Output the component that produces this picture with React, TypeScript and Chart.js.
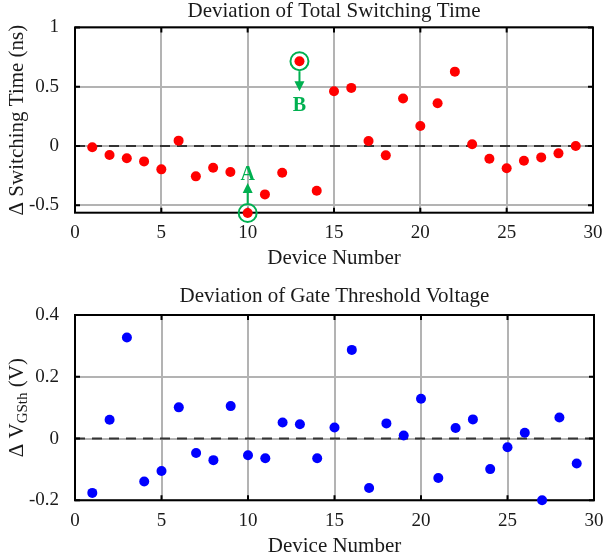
import React, { useEffect, useRef } from 'react';
import { Chart, registerables } from 'chart.js';

Chart.register(...registerables);

// ---------- data ----------
const devices = [1, 2, 3, 4, 5, 6, 7, 8, 9, 10, 11, 12, 13, 14, 15, 16, 17, 18, 19, 20, 21, 22, 23, 24, 25, 26, 27, 28, 29];
const switchingTimeDev = [-0.01, -0.076, -0.104, -0.13, -0.197, 0.045, -0.256, -0.183, -0.219, -0.565, -0.408, -0.225, 0.715, -0.377, 0.461, 0.49, 0.042, -0.079, 0.4, 0.169, 0.36, 0.627, 0.014, -0.107, -0.188, -0.124, -0.096, -0.062, 0.0];
const gateThresholdDev = [-0.176, 0.061, 0.327, -0.139, -0.105, 0.101, -0.047, -0.07, 0.105, -0.054, -0.064, 0.052, 0.046, -0.064, 0.036, 0.287, -0.16, 0.049, 0.01, 0.129, -0.128, 0.034, 0.062, -0.099, -0.028, 0.019, -0.2, 0.068, -0.081];
const xTicks = [0, 5, 10, 15, 20, 25, 30];
const topYTicks = [-0.5, 0, 0.5, 1];
const topYTickLabels = ['-0.5', '0', '0.5', '1'];
const bottomYTicks = [-0.2, 0, 0.2, 0.4];
const bottomYTickLabels = ['-0.2', '0', '0.2', '0.4'];
const markDevices = [10, 13];
const markValues = [-0.565, 0.715];
const markLabels = ['A', 'B'];
const markDirections = ['up', 'down'];

// ---------- styles ----------
const FONT = "'Liberation Serif', 'DejaVu Serif', serif";
const GREEN = 'rgb(0,176,80)';
const GRID = '#b3b3b3';
const TEXT = '#1a1a1a';
const W = 604;
const H = 280;

type Part = { text: string; sub?: boolean };

interface Panel {
  title: string;
  yTitle: Part[];
  values: number[];
  color: string;
  yMin: number;
  yMax: number;
  yTicks: number[];
  yTickLabels: string[];
  withMarks: boolean;
  areaTop: number;
  areaBottom: number;
  titleBaseline: number;
  xTitleBaseline: number;
}

const panels: Panel[] = [
  {
    title: 'Deviation of Total Switching Time',
    yTitle: [{ text: '\u0394 Switching Time (ns)' }],
    values: switchingTimeDev,
    color: '#ff0000',
    yMin: -0.5625,
    yMax: 1,
    yTicks: topYTicks,
    yTickLabels: topYTickLabels,
    withMarks: true,
    areaTop: 27.4,
    areaBottom: 212.7,
    titleBaseline: 17,
    xTitleBaseline: 264,
  },
  {
    title: 'Deviation of Gate Threshold Voltage',
    yTitle: [{ text: '\u0394 V' }, { text: 'GSth', sub: true }, { text: ' (V)' }],
    values: gateThresholdDev,
    color: '#0000ff',
    yMin: -0.2,
    yMax: 0.4,
    yTicks: bottomYTicks,
    yTickLabels: bottomYTickLabels,
    withMarks: false,
    areaTop: 35,
    areaBottom: 220.3,
    titleBaseline: 22.3,
    xTitleBaseline: 271.7,
  },
];

function makeChart(canvas: HTMLCanvasElement, p: Panel) {
  const framePlugin = {
    id: 'frame',
    beforeDatasetsDraw(chart: any) {
      const { ctx, chartArea: a, scales } = chart;
      ctx.save();
      // zero dashed line
      const y0 = scales.y.getPixelForValue(0);
      ctx.strokeStyle = '#333333';
      ctx.lineWidth = 2;
      ctx.setLineDash([10, 7]);
      ctx.beginPath();
      ctx.moveTo(a.left, y0);
      ctx.lineTo(a.right, y0);
      ctx.stroke();
      ctx.setLineDash([]);
      // inner tick marks
      ctx.strokeStyle = '#000';
      ctx.lineWidth = 2;
      const tl = 5;
      ctx.beginPath();
      xTicks.forEach((v) => {
        const x = scales.x.getPixelForValue(v);
        ctx.moveTo(x, a.bottom);
        ctx.lineTo(x, a.bottom - tl);
        ctx.moveTo(x, a.top);
        ctx.lineTo(x, a.top + tl);
      });
      p.yTicks.forEach((v) => {
        const y = scales.y.getPixelForValue(v);
        ctx.moveTo(a.left, y);
        ctx.lineTo(a.left + tl, y);
        ctx.moveTo(a.right, y);
        ctx.lineTo(a.right - tl, y);
      });
      ctx.stroke();
      // box
      ctx.strokeRect(a.left, a.top, a.right - a.left, a.bottom - a.top);
      ctx.restore();
    },
  };

  const textPlugin = {
    id: 'texts',
    afterDraw(chart: any) {
      const { ctx, chartArea: a, scales } = chart;
      ctx.save();
      ctx.fillStyle = TEXT;
      ctx.textAlign = 'center';
      ctx.textBaseline = 'alphabetic';
      ctx.font = `21px ${FONT}`;
      const cx = (a.left + a.right) / 2;
      ctx.fillText(p.title, cx, p.titleBaseline);
      ctx.fillText('Device Number', cx, p.xTitleBaseline);
      // y title, rotated, with optional subscript
      const mainFont = `21px ${FONT}`;
      const subFont = `15px ${FONT}`;
      let total = 0;
      const widths = p.yTitle.map((part) => {
        ctx.font = part.sub ? subFont : mainFont;
        const w = ctx.measureText(part.text).width;
        total += w;
        return w;
      });
      ctx.translate(23, (a.top + a.bottom) / 2);
      ctx.rotate(-Math.PI / 2);
      ctx.textAlign = 'left';
      let x = -total / 2;
      p.yTitle.forEach((part, i) => {
        ctx.font = part.sub ? subFont : mainFont;
        ctx.fillText(part.text, x, part.sub ? 4 : 0);
        x += widths[i];
      });
      ctx.restore();

      if (p.withMarks) {
        ctx.save();
        ctx.fillStyle = GREEN;
        ctx.strokeStyle = GREEN;
        ctx.lineWidth = 2;
        ctx.textAlign = 'center';
        ctx.font = `bold 20px ${FONT}`;
        markDevices.forEach((d, i) => {
          const px = scales.x.getPixelForValue(d);
          const py = scales.y.getPixelForValue(markValues[i]);
          const s = markDirections[i] === 'up' ? -1 : 1;
          ctx.beginPath();
          ctx.moveTo(px, py + s * 10);
          ctx.lineTo(px, py + s * 21);
          ctx.stroke();
          ctx.beginPath();
          ctx.moveTo(px, py + s * 30);
          ctx.lineTo(px - 5, py + s * 20);
          ctx.lineTo(px + 5, py + s * 20);
          ctx.closePath();
          ctx.fill();
          ctx.fillText(markLabels[i], px, s < 0 ? py - 33 : py + 50);
        });
        ctx.restore();
      }
    },
  };

  const datasets: any[] = [
    {
      data: devices.map((d, i) => ({ x: d, y: p.values[i] })),
      backgroundColor: p.color,
      borderColor: p.color,
      pointRadius: 5,
      pointBorderWidth: 0,
      pointHoverRadius: 5,
      clip: false,
    },
  ];
  if (p.withMarks) {
    datasets.push({
      data: markDevices.map((d, i) => ({ x: d, y: markValues[i] })),
      backgroundColor: 'rgba(0,0,0,0)',
      borderColor: GREEN,
      pointRadius: 9,
      pointBorderWidth: 2,
      clip: false,
    });
  }

  return new Chart(canvas, {
    type: 'scatter',
    data: { datasets },
    options: {
      animation: false,
      responsive: false,
      events: [],
      layout: { padding: { left: 0, right: 10, top: p.areaTop, bottom: 0 } },
      plugins: {
        legend: { display: false },
        tooltip: { enabled: false },
        title: { display: false },
      },
      scales: {
        x: {
          type: 'linear',
          min: 0,
          max: 30,
          afterBuildTicks: (s: any) => {
            s.ticks = xTicks.map((v) => ({ value: v }));
          },
          afterFit: (s: any) => {
            s.height = H - p.areaBottom;
            s.paddingLeft = 0;
            s.paddingRight = 0;
          },
          grid: { color: GRID, lineWidth: 2, drawTicks: false },
          border: { display: false },
          ticks: {
            font: { family: FONT, size: 19 },
            color: TEXT,
            padding: 9,
            maxRotation: 0,
            autoSkip: false,
            callback: (v: any) => String(v),
          },
        },
        y: {
          type: 'linear',
          min: p.yMin,
          max: p.yMax,
          afterBuildTicks: (s: any) => {
            s.ticks = p.yTicks.map((v) => ({ value: v }));
          },
          afterFit: (s: any) => {
            s.width = 75;
            s.paddingTop = 0;
            s.paddingBottom = 0;
          },
          grid: { color: GRID, lineWidth: 2, drawTicks: false },
          border: { display: false },
          ticks: {
            font: { family: FONT, size: 19 },
            color: TEXT,
            padding: 16,
            autoSkip: false,
            callback: (v: any) => {
              const idx = p.yTicks.findIndex((t) => Math.abs(t - Number(v)) < 1e-9);
              return idx >= 0 ? p.yTickLabels[idx] : '';
            },
          },
        },
      },
    },
    plugins: [framePlugin, textPlugin],
  } as any);
}

function PanelChart({ panel }: { panel: Panel }) {
  const ref = useRef<HTMLCanvasElement | null>(null);
  useEffect(() => {
    if (!ref.current) return;
    const chart = makeChart(ref.current, panel);
    return () => chart.destroy();
  }, [panel]);
  return <canvas ref={ref} width={W} height={H} style={{ display: 'block', width: W, height: H }} />;
}

export default function App() {
  return (
    <div style={{ position: 'absolute', left: 0, top: 0, width: W, height: 2 * H, background: '#fff' }}>
      {panels.map((p, i) => (
        <PanelChart key={i} panel={p} />
      ))}
    </div>
  );
}
